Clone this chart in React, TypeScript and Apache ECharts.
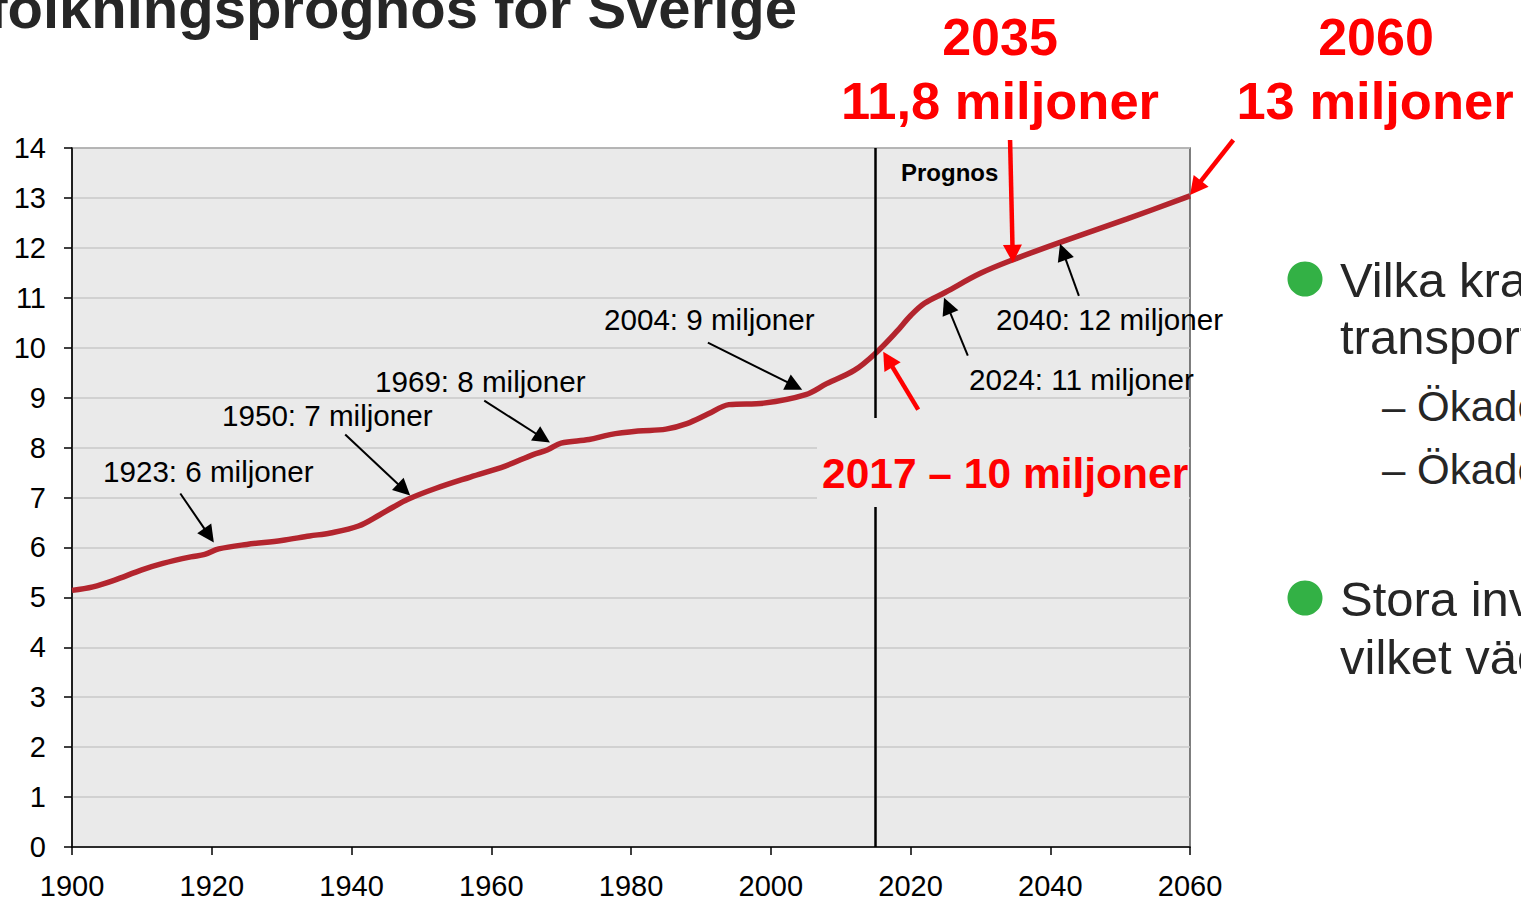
import React, { useEffect, useRef } from "react";
import * as echarts from "echarts";

// ---- data (population of Sweden, millions) ----
const years = [
  1900, 1903, 1906, 1910, 1913, 1917, 1919, 1921, 1925, 1930, 1934, 1937, 1941, 1944, 1946, 1948,
  1952, 1957, 1962, 1966, 1968, 1970, 1974, 1977, 1981, 1985, 1988, 1991, 1994, 1999, 2005, 2008,
  2012, 2015, 2018, 2020, 2022, 2025, 2030, 2035, 2041, 2051, 2060,
];
const population = [
  5.14, 5.21, 5.34, 5.55, 5.68, 5.81, 5.86, 5.97, 6.06, 6.14, 6.23, 6.29, 6.43, 6.65, 6.81, 6.96,
  7.18, 7.41, 7.63, 7.86, 7.95, 8.09, 8.16, 8.26, 8.33, 8.37, 8.48, 8.67, 8.86, 8.89, 9.06, 9.28,
  9.55, 9.89, 10.32, 10.64, 10.89, 11.11, 11.49, 11.78, 12.09, 12.58, 13.04,
];
const prognosStart = 2015;

// annotation arrows (data coordinates: from -> to)
const blackNotes = [
  { text: "1923: 6 miljoner", from: [1915.5, 7.08], to: [1920.3, 6.1] },
  { text: "1950: 7 miljoner", from: [1939.1, 8.26], to: [1948.4, 7.04] },
  { text: "1969: 8 miljoner", from: [1959.0, 8.94], to: [1968.4, 8.1] },
  { text: "2004: 9 miljoner", from: [1991.0, 10.1], to: [2004.5, 9.16] },
  { text: "2024: 11 miljoner", from: [2028.2, 9.84], to: [2024.8, 11.0] },
  { text: "2040: 12 miljoner", from: [2044.1, 11.04], to: [2041.4, 12.08] },
];
const redArrows = [
  { from: [2021.1, 8.76], to: [2016.1, 9.92] },
  { from: [2034.25, 14.16], to: [2034.65, 11.7] },
  { from: [2066.2, 14.16], to: [2060, 13.06] },
];

const FONT = '"Liberation Sans", Arial, Helvetica, sans-serif';

export default function App() {
  const ref = useRef<HTMLDivElement>(null);

  useEffect(() => {
    document.body.style.margin = "0";
    const chart = echarts.init(ref.current as HTMLDivElement, null, { renderer: "svg" });
    const data = years.map((y, i) => [y, population[i]]);

    chart.setOption({
      animation: false,
      backgroundColor: "#ffffff",
      grid: {
        left: 72,
        right: 331,
        top: 148,
        bottom: 52,
        show: true,
        backgroundColor: "#EAEAEA",
        borderColor: "#555555",
        borderWidth: 1.5,
        containLabel: false,
      },
      xAxis: {
        type: "value",
        min: 1900,
        max: 2060,
        interval: 20,
        axisLine: { show: true, onZero: false, lineStyle: { color: "#000", width: 1.5 } },
        axisTick: { show: true, length: 8, lineStyle: { color: "#000", width: 1.5 } },
        splitLine: { show: false },
        axisLabel: {
          color: "#000",
          fontSize: 29,
          fontFamily: FONT,
          margin: 24,
          formatter: (v: number) => String(v),
        },
      },
      yAxis: {
        type: "value",
        min: 0,
        max: 14,
        interval: 1,
        axisLine: { show: true, lineStyle: { color: "#000", width: 1.5 } },
        axisTick: { show: true, length: 8, lineStyle: { color: "#000", width: 1.5 } },
        splitLine: { show: true, lineStyle: { color: "#C8C8C8", width: 1.5 } },
        axisLabel: { color: "#000", fontSize: 29, fontFamily: FONT, margin: 26 },
      },
      series: [
        {
          type: "line",
          data,
          smooth: 0.35,
          showSymbol: false,
          lineStyle: { color: "#B3252E", width: 5.5 },
          z: 3,
          markLine: {
            silent: true,
            symbol: ["none", "none"],
            label: { show: false },
            lineStyle: { color: "#000", width: 2.5, type: "solid" },
            data: [{ xAxis: prognosStart }],
            z: 4,
          },
        },
      ],
    });

    const px = (p: number[]) => chart.convertToPixel({ gridIndex: 0 }, p) as number[];

    const arrow = (p0: number[], p1: number[], color: string, w: number, hl: number, hw: number) => {
      const dx = p1[0] - p0[0];
      const dy = p1[1] - p0[1];
      const len = Math.sqrt(dx * dx + dy * dy);
      const ux = dx / len;
      const uy = dy / len;
      const bx = p1[0] - ux * hl;
      const by = p1[1] - uy * hl;
      const nx = -uy;
      const ny = ux;
      return [
        {
          type: "line",
          z: 100,
          shape: { x1: p0[0], y1: p0[1], x2: bx + ux * 2, y2: by + uy * 2 },
          style: { stroke: color, lineWidth: w },
        },
        {
          type: "polygon",
          z: 101,
          shape: {
            points: [
              [p1[0], p1[1]],
              [bx + (nx * hw) / 2, by + (ny * hw) / 2],
              [bx - (nx * hw) / 2, by - (ny * hw) / 2],
            ],
          },
          style: { fill: color },
        },
      ];
    };

    const text = (
      s: string,
      x: number,
      y: number,
      size: number,
      color: string,
      bold: boolean,
      align: string = "left"
    ) => ({
      type: "text",
      x,
      y,
      z: 110,
      style: {
        text: s,
        fill: color,
        font: `${bold ? "bold " : ""}${size}px ${FONT}`,
        textAlign: align,
        textVerticalAlign: "middle",
      },
    });

    const labelPos: number[][] = [
      [103, 471],
      [222, 415],
      [375, 381],
      [604, 319],
      [969, 379],
      [996, 319],
    ];

    const elements: any[] = [];
    // box behind "2017 – 10 miljoner"
    elements.push({
      type: "rect",
      z: 50,
      shape: { x: 817, y: 418, width: 372, height: 89 },
      style: { fill: "#EAEAEA" },
    });

    blackNotes.forEach((n, i) => {
      elements.push(...arrow(px(n.from), px(n.to), "#000", 2, 17, 17));
      elements.push(text(n.text, labelPos[i][0], labelPos[i][1], 29.6, "#000", false));
    });
    redArrows.forEach((a) => {
      elements.push(...arrow(px(a.from), px(a.to), "#FF0000", 4.5, 18, 19));
    });

    elements.push(text("Prognos", 901, 172, 24, "#000", true));
    elements.push(text("2017 – 10 miljoner", 822, 473, 42.5, "#FF0000", true));
    elements.push(text("2035", 1000, 37, 52, "#FF0000", true, "center"));
    elements.push(text("11,8 miljoner", 1000, 100, 52.5, "#FF0000", true, "center"));
    elements.push(text("2060", 1376, 37, 52, "#FF0000", true, "center"));
    elements.push(text("13 miljoner", 1375, 100, 52.5, "#FF0000", true, "center"));

    // title (partly off-screen, as in the slide)
    elements.push(text("Befolkningsprognos för Sverige", 797, 7, 58, "#262626", true, "right"));

    // slide bullets at right
    elements.push({ type: "circle", z: 110, shape: { cx: 1305, cy: 279, r: 17.5 }, style: { fill: "#33B145" } });
    elements.push({ type: "circle", z: 110, shape: { cx: 1305, cy: 598, r: 17.5 }, style: { fill: "#33B145" } });
    elements.push(text("Vilka krav ställer detta på", 1340, 280, 49, "#262626", false));
    elements.push(text("transportsystemet?", 1340, 337, 49, "#262626", false));
    elements.push(text("– Ökade persontransporter", 1382, 406, 42, "#262626", false));
    elements.push(text("– Ökade godstransporter", 1382, 469, 42, "#262626", false));
    elements.push(text("Stora investeringar krävs,", 1340, 599, 49, "#262626", false));
    elements.push(text("vilket väcker frågan om", 1340, 657, 49, "#262626", false));

    chart.setOption({ graphic: { elements } });

    return () => chart.dispose();
  }, []);

  return (
    <div
      ref={ref}
      style={{ position: "absolute", left: 0, top: 0, width: 1521, height: 900, overflow: "hidden" }}
    />
  );
}
